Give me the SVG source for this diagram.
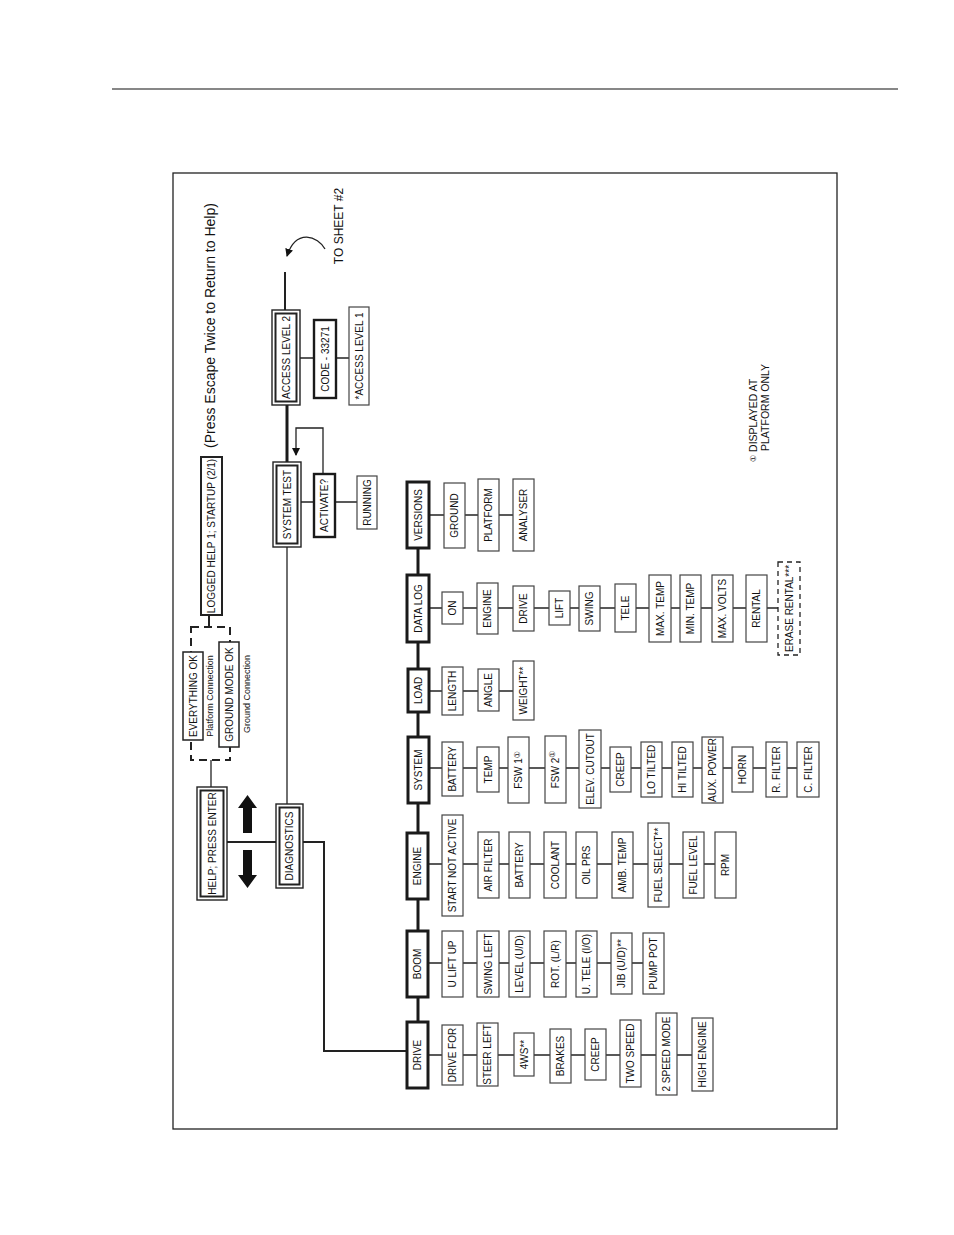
<svg xmlns="http://www.w3.org/2000/svg" width="954" height="1235" viewBox="0 0 954 1235">
<style>
  .t{font-family:"Liberation Sans",Arial,sans-serif;font-size:10px;text-anchor:middle;dominant-baseline:central;fill:#111}
  .cat{fill:#fff;stroke:#1a1a1a;stroke-width:3}
  .box{fill:#fff;stroke:#444;stroke-width:1.2}
  .thk{fill:#fff;stroke:#1a1a1a;stroke-width:2.4}
  .dbo{fill:#fff;stroke:#222;stroke-width:1.4}
  .dbi{fill:none;stroke:#222;stroke-width:2}
  .ln{stroke:#222;stroke-width:1.3;fill:none}
  .ln2{stroke:#222;stroke-width:2;fill:none}
  .spine{stroke:#1a1a1a;stroke-width:3;fill:none}
  .dash{fill:none;stroke:#222;stroke-width:2;stroke-dasharray:8 5}
  .sym{font-family:"DejaVu Sans","Noto Sans CJK SC",sans-serif;font-size:8px}
</style>
<defs>
  <marker id="ah" markerWidth="8" markerHeight="8" refX="7" refY="4" orient="auto" markerUnits="userSpaceOnUse">
    <path d="M0,0 L8,4 L0,8 Z" fill="#111"/>
  </marker>
</defs>
<rect width="954" height="1235" fill="#fff"/>
<line x1="112" y1="89" x2="898" y2="89" stroke="#111" stroke-width="1.2"/>
<rect x="173" y="173" width="664" height="956" fill="none" stroke="#222" stroke-width="1.3"/>

<g id="connectors">
  <polyline class="ln2" points="303,842 324,842 324,1051 406,1051"/>
  <line class="ln2" x1="227" y1="842" x2="276" y2="842"/>
  <line class="ln" x1="211" y1="787" x2="211" y2="760"/>
  <line class="ln2" x1="209" y1="615" x2="209" y2="627"/>
  <line class="ln" x1="287" y1="547" x2="287" y2="804"/>
  <line class="spine" x1="287" y1="405" x2="287" y2="462"/>
  <line class="ln2" x1="285" y1="310" x2="285" y2="272"/>
  <path class="ln" d="M325,249 C318,236 296,228 287,256" marker-end="url(#ah)"/>
  <polyline class="ln" points="323,474 323,428 296,428 296,455" marker-end="url(#ah)"/>
  <line class="ln" x1="300" y1="358" x2="349" y2="358"/>
  <line class="ln" x1="301" y1="502" x2="357" y2="502"/>
  <line class="spine" x1="418" y1="548" x2="418" y2="1023"/>
  <line class="ln" x1="428" y1="1055" x2="692" y2="1055"/>
  <line class="ln" x1="428" y1="963" x2="643" y2="963"/>
  <line class="ln" x1="428" y1="864" x2="715" y2="864"/>
  <line class="ln" x1="429" y1="768" x2="797" y2="768"/>
  <line class="ln" x1="429" y1="691" x2="513" y2="691"/>
  <line class="ln" x1="429" y1="608" x2="778" y2="608"/>
  <line class="ln" x1="429" y1="515" x2="513" y2="515"/>
</g>

<g id="arrows">
  <path d="M247.5,795 L257,808 L252,808 L252,833 L243,833 L243,808 L238,808 Z" fill="#111"/>
  <path d="M247.5,888 L257,875 L252,875 L252,850 L243,850 L243,875 L238,875 Z" fill="#111"/>
</g>

<g id="title"><text class="t" style="font-size:14px;text-anchor:start" transform="translate(210 448) rotate(-90)">(Press Escape Twice to Return to Help)</text></g>
<g id="tosheet"><text class="t" style="font-size:12px" transform="translate(339 226) rotate(-90)">TO SHEET #2</text></g>
<g id="note">
  <text class="t" style="text-anchor:start;font-size:10.5px" transform="translate(753 462) rotate(-90)"><tspan class="sym">①</tspan> DISPLAYED AT</text>
  <text class="t" style="text-anchor:start;font-size:10.5px" transform="translate(765 451) rotate(-90)">PLATFORM ONLY</text>
</g>

<g id="n-help"><rect class="dbo" x="197" y="787" width="30" height="113"/><rect class="dbi" x="200.5" y="790.5" width="23" height="106"/><text class="t" transform="translate(212 843.5) rotate(-90)">HELP; PRESS ENTER</text></g>
<g id="n-diag"><rect class="dbo" x="276" y="804" width="27" height="84"/><rect class="dbi" x="279.5" y="807.5" width="20" height="77"/><text class="t" transform="translate(289.5 846) rotate(-90)">DIAGNOSTICS</text></g>
<g id="n-systest"><rect class="dbo" x="273" y="462" width="28" height="85"/><rect class="dbi" x="276.5" y="465.5" width="21" height="78"/><text class="t" transform="translate(287 504.5) rotate(-90)">SYSTEM TEST</text></g>
<g id="n-access2"><rect class="dbo" x="272" y="310" width="28" height="95"/><rect class="dbi" x="275.5" y="313.5" width="21" height="88"/><text class="t" transform="translate(286 357.5) rotate(-90)">ACCESS LEVEL 2</text></g>
<g id="n-code"><rect class="thk" x="314" y="320" width="22" height="78"/><text class="t" transform="translate(325 359) rotate(-90)">CODE - 33271</text></g>
<g id="n-access1"><rect class="box" x="349" y="307" width="20" height="98"/><text class="t" transform="translate(359 356) rotate(-90)">*ACCESS LEVEL 1</text></g>
<g id="n-activate"><rect class="thk" x="314" y="474" width="21" height="63"/><text class="t" transform="translate(324.5 505.5) rotate(-90)">ACTIVATE?</text></g>
<g id="n-running"><rect class="box" x="357" y="476" width="20" height="53"/><text class="t" transform="translate(367 502.5) rotate(-90)">RUNNING</text></g>
<g id="n-logged"><rect class="dbi" style="fill:#fff" x="201" y="457" width="21" height="158"/><text class="t" transform="translate(211.5 536) rotate(-90)">LOGGED HELP 1; STARTUP (2/1)</text></g>
<g id="n-okgroup">
  <rect class="dash" x="191" y="627" width="39" height="133"/>
  <rect class="box" style="stroke:#222;stroke-width:1.5" x="183" y="652" width="20" height="88"/><text class="t" transform="translate(193 696) rotate(-90)">EVERYTHING OK</text>
  <text class="t" style="font-size:9px" transform="translate(210 696) rotate(-90)">Platform Connection</text>
  <rect class="box" style="stroke:#222;stroke-width:1.5" x="219" y="642" width="20" height="105"/><text class="t" transform="translate(229 694.5) rotate(-90)">GROUND MODE OK</text>
  <text class="t" style="font-size:9px" transform="translate(247 694) rotate(-90)">Ground Connection</text>
</g>

<g id="n-drive">
  <rect class="cat" x="407" y="1022" width="21" height="66"/><text class="t" transform="translate(417.5 1055) rotate(-90)">DRIVE</text>
  <rect class="box" x="442" y="1025" width="21" height="60"/><text class="t" transform="translate(452.5 1055) rotate(-90)">DRIVE FOR</text>
  <rect class="box" x="477" y="1023" width="21" height="63"/><text class="t" transform="translate(487.5 1054.5) rotate(-90)">STEER LEFT</text>
  <rect class="box" x="514" y="1033" width="20" height="43"/><text class="t" transform="translate(524 1054.5) rotate(-90)">4WS**</text>
  <rect class="box" x="550" y="1029" width="21" height="54"/><text class="t" transform="translate(560.5 1056) rotate(-90)">BRAKES</text>
  <rect class="box" x="585" y="1029" width="21" height="51"/><text class="t" transform="translate(595.5 1054.5) rotate(-90)">CREEP</text>
  <rect class="box" x="620" y="1020" width="21" height="67"/><text class="t" transform="translate(630.5 1053.5) rotate(-90)">TWO SPEED</text>
  <rect class="box" x="656" y="1013" width="21" height="82"/><text class="t" transform="translate(666.5 1054) rotate(-90)">2 SPEED MODE</text>
  <rect class="box" x="692" y="1018" width="21" height="73"/><text class="t" transform="translate(702.5 1054.5) rotate(-90)">HIGH ENGINE</text>
</g>
<g id="n-boom">
  <rect class="cat" x="407" y="931" width="21" height="66"/><text class="t" transform="translate(417.5 964) rotate(-90)">BOOM</text>
  <rect class="box" x="442" y="931" width="21" height="66"/><text class="t" transform="translate(452.5 964) rotate(-90)">U LIFT UP</text>
  <rect class="box" x="477" y="931" width="22" height="66"/><text class="t" transform="translate(488 964) rotate(-90)">SWING LEFT</text>
  <rect class="box" x="509" y="931" width="21" height="66"/><text class="t" transform="translate(519.5 964) rotate(-90)">LEVEL (U/D)</text>
  <rect class="box" x="544" y="931" width="22" height="66"/><text class="t" transform="translate(555 964) rotate(-90)">ROT. (L/R)</text>
  <rect class="box" x="576" y="931" width="21" height="66"/><text class="t" transform="translate(586.5 964) rotate(-90)">U. TELE (I/O)</text>
  <rect class="box" x="611" y="933" width="21" height="61"/><text class="t" transform="translate(621.5 963.5) rotate(-90)">JIB (U/D)**</text>
  <rect class="box" x="643" y="933" width="21" height="61"/><text class="t" transform="translate(653.5 963.5) rotate(-90)">PUMP POT</text>
</g>
<g id="n-engine">
  <rect class="cat" x="407" y="833" width="21" height="66"/><text class="t" transform="translate(417.5 866) rotate(-90)">ENGINE</text>
  <rect class="box" x="442" y="815" width="21" height="101"/><text class="t" transform="translate(452.5 865.5) rotate(-90)">START NOT ACTIVE</text>
  <rect class="box" x="478" y="832" width="21" height="66"/><text class="t" transform="translate(488.5 865) rotate(-90)">AIR FILTER</text>
  <rect class="box" x="509" y="832" width="21" height="66"/><text class="t" transform="translate(519.5 865) rotate(-90)">BATTERY</text>
  <rect class="box" x="544" y="832" width="22" height="66"/><text class="t" transform="translate(555 865) rotate(-90)">COOLANT</text>
  <rect class="box" x="576" y="832" width="21" height="66"/><text class="t" transform="translate(586.5 865) rotate(-90)">OIL PRS</text>
  <rect class="box" x="612" y="832" width="21" height="66"/><text class="t" transform="translate(622.5 865) rotate(-90)">AMB. TEMP</text>
  <rect class="box" x="648" y="823" width="21" height="84"/><text class="t" transform="translate(658.5 865) rotate(-90)">FUEL SELECT**</text>
  <rect class="box" x="683" y="832" width="21" height="66"/><text class="t" transform="translate(693.5 865) rotate(-90)">FUEL LEVEL</text>
  <rect class="box" x="715" y="832" width="21" height="66"/><text class="t" transform="translate(725.5 865) rotate(-90)">RPM</text>
</g>
<g id="n-system">
  <rect class="cat" x="408" y="737" width="21" height="66"/><text class="t" transform="translate(418.5 770) rotate(-90)">SYSTEM</text>
  <rect class="box" x="442" y="742" width="21" height="54"/><text class="t" transform="translate(452.5 769) rotate(-90)">BATTERY</text>
  <rect class="box" x="477" y="747" width="22" height="45"/><text class="t" transform="translate(488 769.5) rotate(-90)">TEMP</text>
  <rect class="box" x="508" y="737" width="21" height="66"/><text class="t" transform="translate(518.5 770) rotate(-90)">FSW 1<tspan class="sym" dy="-1.5">①</tspan></text>
  <rect class="box" x="545" y="736" width="21" height="67"/><text class="t" transform="translate(555.5 769.5) rotate(-90)">FSW 2<tspan class="sym" dy="-3.5">①</tspan></text>
  <rect class="box" x="579" y="730" width="22" height="78"/><text class="t" transform="translate(590 769) rotate(-90)">ELEV. CUTOUT</text>
  <rect class="box" x="610" y="747" width="21" height="45"/><text class="t" transform="translate(620.5 769.5) rotate(-90)">CREEP</text>
  <rect class="box" x="641" y="742" width="21" height="55"/><text class="t" transform="translate(651.5 769.5) rotate(-90)">LO TILTED</text>
  <rect class="box" x="672" y="742" width="21" height="55"/><text class="t" transform="translate(682.5 769.5) rotate(-90)">HI TILTED</text>
  <rect class="box" x="702" y="737" width="21" height="66"/><text class="t" transform="translate(712.5 770) rotate(-90)">AUX. POWER</text>
  <rect class="box" x="732" y="747" width="21" height="45"/><text class="t" transform="translate(742.5 769.5) rotate(-90)">HORN</text>
  <rect class="box" x="766" y="742" width="21" height="55"/><text class="t" transform="translate(776.5 769.5) rotate(-90)">R. FILTER</text>
  <rect class="box" x="797" y="742" width="22" height="55"/><text class="t" transform="translate(808 769.5) rotate(-90)">C. FILTER</text>
</g>
<g id="n-load">
  <rect class="cat" x="408" y="669" width="21" height="43"/><text class="t" transform="translate(418.5 690.5) rotate(-90)">LOAD</text>
  <rect class="box" x="442" y="667" width="21" height="48"/><text class="t" transform="translate(452.5 691) rotate(-90)">LENGTH</text>
  <rect class="box" x="478" y="669" width="21" height="42"/><text class="t" transform="translate(488.5 690) rotate(-90)">ANGLE</text>
  <rect class="box" x="513" y="661" width="21" height="59"/><text class="t" transform="translate(523.5 690.5) rotate(-90)">WEIGHT**</text>
</g>
<g id="n-datalog">
  <rect class="cat" x="407" y="575" width="22" height="67"/><text class="t" transform="translate(418 608.5) rotate(-90)">DATA LOG</text>
  <rect class="box" x="442" y="592" width="21" height="32"/><text class="t" transform="translate(452.5 608) rotate(-90)">ON</text>
  <rect class="box" x="477" y="583" width="21" height="51"/><text class="t" transform="translate(487.5 608.5) rotate(-90)">ENGINE</text>
  <rect class="box" x="513" y="586" width="21" height="45"/><text class="t" transform="translate(523.5 608.5) rotate(-90)">DRIVE</text>
  <rect class="box" x="549" y="591" width="21" height="34"/><text class="t" transform="translate(559.5 608) rotate(-90)">LIFT</text>
  <rect class="box" x="579" y="586" width="21" height="45"/><text class="t" transform="translate(589.5 608.5) rotate(-90)">SWING</text>
  <rect class="box" x="615" y="584" width="21" height="48"/><text class="t" transform="translate(625.5 608) rotate(-90)">TELE</text>
  <rect class="box" x="649" y="575" width="22" height="67"/><text class="t" transform="translate(660 608.5) rotate(-90)">MAX. TEMP</text>
  <rect class="box" x="680" y="575" width="21" height="67"/><text class="t" transform="translate(690.5 608.5) rotate(-90)">MIN. TEMP</text>
  <rect class="box" x="712" y="575" width="21" height="67"/><text class="t" transform="translate(722.5 608.5) rotate(-90)">MAX. VOLTS</text>
  <rect class="box" x="746" y="575" width="21" height="67"/><text class="t" transform="translate(756.5 608.5) rotate(-90)">RENTAL</text>
  <rect class="dash" style="fill:#fff;stroke-width:1.3;stroke-dasharray:5 4" x="778" y="562" width="22" height="93"/><text class="t" transform="translate(789 608.5) rotate(-90)">ERASE RENTAL***</text>
</g>
<g id="n-versions">
  <rect class="cat" x="407" y="482" width="22" height="66"/><text class="t" transform="translate(418 515) rotate(-90)">VERSIONS</text>
  <rect class="box" x="444" y="483" width="21" height="65"/><text class="t" transform="translate(454.5 515.5) rotate(-90)">GROUND</text>
  <rect class="box" x="478" y="479" width="21" height="72"/><text class="t" transform="translate(488.5 515) rotate(-90)">PLATFORM</text>
  <rect class="box" x="513" y="479" width="21" height="72"/><text class="t" transform="translate(523.5 515) rotate(-90)">ANALYSER</text>
</g>
</svg>
